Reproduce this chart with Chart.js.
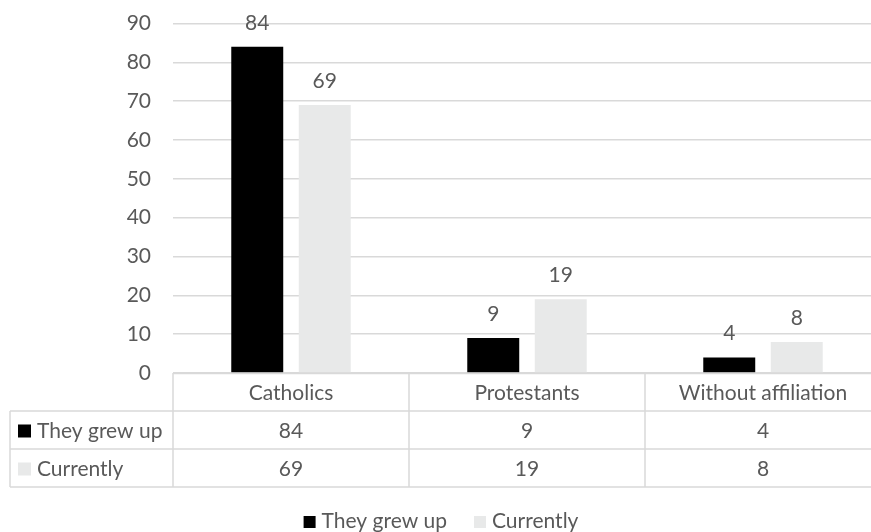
<!DOCTYPE html>
<html>
<head>
<meta charset="utf-8">
<script src="https://cdn.jsdelivr.net/npm/chart.js@4.4.1/dist/chart.umd.min.js"></script>
<style>
    html, body { margin: 0; padding: 0; background: #fff; overflow: hidden; }
    #wrap { width: 871px; height: 532px; overflow: hidden; }
    #box { width: 936px; height: 532px; }
</style>
</head>
<body>
<div id="wrap"><div id="box"><canvas id="chart"></canvas></div></div>
<script>
// Chart data
const categories = ['Catholics', 'Protestants', 'Without affiliation'];
const grewUp = [84, 9, 4];
const currently = [69, 19, 8];
const yTicks = [0, 10, 20, 30, 40, 50, 60, 70, 80, 90];

const textColor = '#595959';
const lineColor = '#d9d9d9';
const blackFill = '#000000';
const grayFill = '#e8e9e9';
const fontFamily = 'Lato, "Open Sans", sans-serif';
const fontSize = 21;

const TABLE_ROW = 38;
const TABLE_LEFT = 10;
const LEGEND_Y = 521;
const LEGEND_CENTER = 441;

// Value labels above each bar
const valueLabels = {
    id: 'valueLabels',
    afterDatasetsDraw(chart) {
        const ctx = chart.ctx;
        ctx.save();
        ctx.font = fontSize + 'px ' + fontFamily;
        ctx.fillStyle = textColor;
        ctx.textAlign = 'center';
        ctx.textBaseline = 'middle';
        chart.data.datasets.forEach((ds, i) => {
            chart.getDatasetMeta(i).data.forEach((bar, j) => {
                ctx.fillText(ds.data[j], bar.x, bar.y - 24);
            });
        });
        ctx.restore();
    }
};

// Data table under the plot area, plus the legend line below it
const dataTable = {
    id: 'dataTable',
    afterDraw(chart) {
        const ctx = chart.ctx;
        const area = chart.chartArea;
        const x = chart.scales.x;
        const top = area.bottom;
        const n = categories.length;
        const step = (area.right - area.left) / n;
        const rows = chart.data.datasets.map(ds => ({
            label: ds.label, color: ds.backgroundColor, values: ds.data
        }));

        ctx.save();
        ctx.strokeStyle = lineColor;
        ctx.lineWidth = 1.5;
        ctx.beginPath();
        // header row
        ctx.moveTo(area.left, top + 0.5);
        ctx.lineTo(area.right, top + 0.5);
        for (let r = 1; r <= rows.length + 1; r++) {
            const y = top + r * TABLE_ROW;
            ctx.moveTo(TABLE_LEFT, y);
            ctx.lineTo(area.right, y);
        }
        for (let c = 0; c <= n; c++) {
            const xx = area.left + c * step;
            ctx.moveTo(xx, top);
            ctx.lineTo(xx, top + (rows.length + 1) * TABLE_ROW);
        }
        ctx.moveTo(TABLE_LEFT, top + TABLE_ROW);
        ctx.lineTo(TABLE_LEFT, top + (rows.length + 1) * TABLE_ROW);
        ctx.stroke();

        ctx.font = fontSize + 'px ' + fontFamily;
        ctx.fillStyle = textColor;
        ctx.textAlign = 'center';
        ctx.textBaseline = 'middle';
        categories.forEach((cat, i) => {
            ctx.fillText(cat, x.getPixelForValue(i), top + TABLE_ROW / 2 + 1);
        });

        rows.forEach((row, r) => {
            const yMid = top + (r + 1.5) * TABLE_ROW + 1;
            ctx.fillStyle = row.color;
            ctx.fillRect(18, yMid - 6.5, 13, 13);
            ctx.fillStyle = textColor;
            ctx.textAlign = 'left';
            ctx.fillText(row.label, 37, yMid);
            ctx.textAlign = 'center';
            row.values.forEach((v, i) => {
                ctx.fillText(v, x.getPixelForValue(i), yMid);
            });
        });

        // legend
        const box = 12, gap = 6, itemGap = 27;
        const widths = rows.map(r => ctx.measureText(r.label).width);
        const total = widths.reduce((s, w) => s + box + gap + w, 0) + itemGap * (rows.length - 1);
        let lx = LEGEND_CENTER - total / 2;
        ctx.textAlign = 'left';
        rows.forEach((row, i) => {
            ctx.fillStyle = row.color;
            ctx.fillRect(lx, LEGEND_Y - 5, box, box);
            ctx.fillStyle = textColor;
            ctx.fillText(row.label, lx + box + gap, LEGEND_Y);
            lx += box + gap + widths[i] + itemGap;
        });
        ctx.restore();
    }
};

new Chart(document.getElementById('chart'), {
    type: 'bar',
    data: {
        labels: categories,
        datasets: [{
            label: 'They grew up',
            data: grewUp,
            backgroundColor: blackFill,
            categoryPercentage: 0.572,
            barPercentage: 0.77
        }, {
            label: 'Currently',
            data: currently,
            backgroundColor: grayFill,
            categoryPercentage: 0.572,
            barPercentage: 0.77
        }]
    },
    options: {
        responsive: true,
        maintainAspectRatio: false,
        animation: false,
        layout: {
            padding: { top: 0, right: 55, left: 0, bottom: 0 }
        },
        plugins: {
            tooltip: { enabled: false },
            legend: { display: false }
        },
        scales: {
            x: {
                ticks: { display: false },
                grid: { display: false },
                border: { display: false },
                afterFit(scale) { scale.height = 159; }
            },
            y: {
                min: yTicks[0],
                max: yTicks[yTicks.length - 1],
                afterBuildTicks(scale) {
                    scale.ticks = yTicks.map(v => ({ value: v }));
                },
                afterFit(scale) {
                    scale.width = 173;
                    scale.paddingTop = 23.5;
                    scale.paddingBottom = 0;
                },
                ticks: {
                    color: textColor,
                    font: { family: fontFamily, size: fontSize },
                    padding: 22
                },
                grid: { color: lineColor, lineWidth: 1.5, drawTicks: false },
                border: { display: false }
            }
        }
    },
    plugins: [valueLabels, dataTable]
});
</script>
</body>
</html>
